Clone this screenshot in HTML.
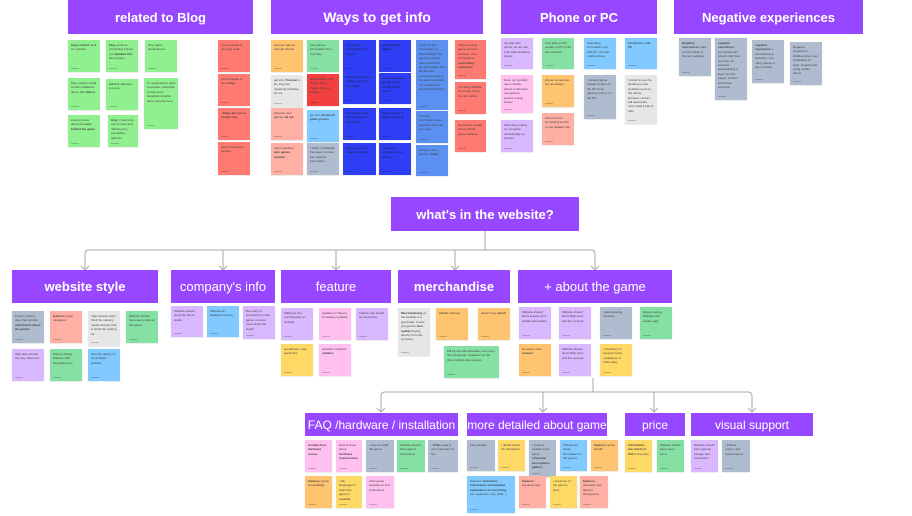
<!DOCTYPE html>
<html><head><meta charset="utf-8"><style>
*{margin:0;padding:0;box-sizing:border-box}
body{width:912px;height:516px;background:#fff;position:relative;overflow:hidden;font-family:"Liberation Sans",sans-serif}
.h{position:absolute;background:#9747ff;color:#fff;display:flex;align-items:center;justify-content:center;font-weight:bold;font-size:13px;white-space:nowrap}
.h.r{font-weight:normal}
.s{position:absolute;font-size:3px;line-height:4.4px;padding:3px;color:#444;overflow:hidden;box-shadow:0 0.5px 1px rgba(0,0,0,.15)}
.s::after{content:"";position:absolute;left:3px;bottom:3px;width:8px;height:1px;background:rgba(0,0,0,.2)}
.g{background:#90f090}.gr{background:#85e0a3}.l{background:#d9b8ff}.p{background:#ffc0ef}.sa{background:#ffafa3}.r1{background:#ff7a70}
.o{background:#ffc470}.y{background:#ffd966}.lb{background:#80caff}.gb{background:#afbccf}.lg{background:#e6e6e6}
.b{background:#2e3ef5;color:#223}.mb{background:#5b8ff0}.rr{background:#f24040}
</style></head><body>
<svg width="912" height="516" style="position:absolute;left:0;top:0" fill="none" stroke="#aaa" stroke-width="1">
<path d="M485 231V250M85 270V254Q85 250 89 250H591Q595 250 595 254V270M223 250V270M336 250V270M455 250V270"/>
<path d="M81 266l4 4 4-4M219 266l4 4 4-4M332 266l4 4 4-4M451 266l4 4 4-4M591 266l4 4 4-4"/>
<path d="M593 378V392M381 412V396Q381 392 385 392H748Q752 392 752 396V412M543 392V412M654 392V412"/>
<path d="M377 408l4 4 4-4M539 408l4 4 4-4M650 408l4 4 4-4M748 408l4 4 4-4"/>
</svg>

<div class="h" style="left:68px;top:0;width:185px;height:34px">related to Blog</div>
<div class="h" style="left:271px;top:0;width:212px;height:34px;font-size:14px">Ways to get info</div>
<div class="h" style="left:501px;top:0;width:156px;height:34px">Phone or PC</div>
<div class="h" style="left:674px;top:0;width:189px;height:34px">Negative experiences</div>

<div class="s g" style="left:68px;top:40px;width:32px;height:32px"><b>blog content:</b> look for updates</div>
<div class="s g" style="left:68px;top:78px;width:32px;height:32px">blog: prefers visual content related to game, like <b>Videos</b></div>
<div class="s g" style="left:68px;top:115px;width:32px;height:32px">Likes to know about the <b>team behind the game</b></div>
<div class="s g" style="left:106px;top:40px;width:32px;height:32px"><b>blog</b> could be interesting if gives you <b>detailed info</b> about game</div>
<div class="s g" style="left:106px;top:79px;width:32px;height:31px"><b>want to see</b> devs process</div>
<div class="s g" style="left:108px;top:115px;width:30px;height:32px"><b>blog</b>: it has to be very human and offering very interesting features</div>
<div class="s g" style="left:145px;top:40px;width:32px;height:32px">blog: game development</div>
<div class="s g" style="left:144px;top:78px;width:34px;height:51px">I'm expecting to read a episode, would like to find some blog/diary/insights about development</div>
<div class="s r1" style="left:218px;top:40px;width:32px;height:32px">not interested in dev logs at all</div>
<div class="s r1" style="left:218px;top:74px;width:32px;height:32px">not interested in devs <b>blog</b></div>
<div class="s r1" style="left:218px;top:108px;width:32px;height:32px">• <b>blogs are not so trendy now</b></div>
<div class="s r1" style="left:218px;top:142px;width:32px;height:33px">doesn't visit devs website</div>

<div class="s o" style="left:271px;top:40px;width:32px;height:32px">discover games through friends</div>
<div class="s lg" style="left:271px;top:75px;width:32px;height:32px">get info: <b>Podcast</b> a lot, they are replacing websites for me</div>
<div class="s sa" style="left:271px;top:108px;width:32px;height:32px">discover new games: <b>tik tok</b></div>
<div class="s sa" style="left:271px;top:143px;width:32px;height:32px">other websites: <b>epic games website</b></div>
<div class="s gr" style="left:307px;top:40px;width:32px;height:32px">new games information from YouTube</div>
<div class="s rr" style="left:307px;top:74px;width:32px;height:32px">dev Website: Will Snaps, Rock Paper, Polygon, Kotaku</div>
<div class="s lb" style="left:307px;top:110px;width:32px;height:32px">get info: <b>facebook game groups</b></div>
<div class="s gb" style="left:307px;top:143px;width:32px;height:32px">• clicks on <b>forums</b> that seem to have the required information</div>
<div class="s b" style="left:343px;top:40px;width:33px;height:32px">new games information from Steam</div>
<div class="s b" style="left:343px;top:72px;width:33px;height:32px">Believe Steam is a reliable source of information</div>
<div class="s b" style="left:343px;top:108px;width:33px;height:32px">Uses Steam and Epic to discover new games</div>
<div class="s b" style="left:343px;top:143px;width:33px;height:32px">Main sources: 1. Steam 2. Reddit</div>
<div class="s b" style="left:379px;top:40px;width:32px;height:32px"><b>get new info: steam</b></div>
<div class="s b" style="left:379px;top:73px;width:32px;height:31px">devs research on google, which usually lead to Steam</div>
<div class="s b" style="left:379px;top:108px;width:32px;height:32px">Main sources: 1. Steam 2. Reddit</div>
<div class="s b" style="left:379px;top:143px;width:32px;height:32px">new games information from Steam</div>
<div class="s mb" style="left:416px;top:40px;width:32px;height:70px">Looks for the information on Steam/Steam the game's website. Uses Discord to get information and Reddit that sometimes lead to the game's website if it contains the desired information</div>
<div class="s mb" style="left:416px;top:111px;width:32px;height:32px">For blog information, uses Discord, where he can read</div>
<div class="s mb" style="left:416px;top:145px;width:32px;height:31px">discover new games: <b>steam</b></div>
<div class="s r1" style="left:455px;top:40px;width:31px;height:39px">Stopped using game websites because more interested in <b>community, comments</b></div>
<div class="s r1" style="left:455px;top:82px;width:31px;height:32px">not using Website as a main source for information</div>
<div class="s r1" style="left:455px;top:120px;width:31px;height:32px">He doesn't usually check official game websites</div>

<div class="s l" style="left:501px;top:38px;width:32px;height:31px">not play with phone, as not use it as main browsing device</div>
<div class="s p" style="left:501px;top:75px;width:32px;height:38px">Does not typically use a mobile phone to discover new games, prefers a large screen</div>
<div class="s l" style="left:501px;top:120px;width:32px;height:32px">Searching mainly on computer, occasionally on phones</div>
<div class="s gr" style="left:542px;top:38px;width:32px;height:31px">Only play on PC, usually on PC to do the research</div>
<div class="s o" style="left:542px;top:75px;width:32px;height:32px">phone: sometimes but not always</div>
<div class="s sa" style="left:542px;top:113px;width:32px;height:32px">Phone if find something but PC to say detailed info</div>
<div class="s lb" style="left:584px;top:38px;width:32px;height:31px">Searching information only with PC, not with mobile phone</div>
<div class="s gb" style="left:584px;top:75px;width:32px;height:44px">• viewing game related content on the PC since gaming is done on the PC</div>
<div class="s lb" style="left:625px;top:38px;width:32px;height:31px"><b>not phone, only PC</b></div>
<div class="s lg" style="left:625px;top:75px;width:32px;height:49px">I prefer to use the desktop to visit websites and not the phone, because I know I will appreciate more what it has to offer</div>

<div class="s gb" style="left:679px;top:38px;width:32px;height:38px"><b>Negative experiences:</b> lack of information in the dev websites</div>
<div class="s gb" style="left:715px;top:38px;width:32px;height:62px"><b>negative experience:</b> connected with ubisoft, with their services, for example downloading or login into the pages, content which was removed</div>
<div class="s gb" style="left:752px;top:40px;width:32px;height:43px"><b>negative experience:</b> • overwhelming websites • too many games in devs website</div>
<div class="s gb" style="left:790px;top:42px;width:32px;height:43px">Negative experience: Dislikes when user notification for login, would prefer using mobile phone</div>

<div class="h" style="left:391px;top:197px;width:188px;height:34px">what's in the website?</div>

<div class="h" style="left:12px;top:270px;width:146px;height:33px">website style</div>
<div class="h r" style="left:171px;top:270px;width:104px;height:33px">company's info</div>
<div class="h r" style="left:281px;top:270px;width:110px;height:33px">feature</div>
<div class="h" style="left:398px;top:270px;width:112px;height:33px">merchandise</div>
<div class="h r" style="left:518px;top:270px;width:154px;height:33px">+ about the game</div>

<div class="s gb" style="left:12px;top:311px;width:32px;height:32px">Prefers visiting sites that provide <b>information about the games</b></div>
<div class="s l" style="left:12px;top:349px;width:32px;height:32px">Web sites should not only show text</div>
<div class="s sa" style="left:50px;top:311px;width:32px;height:32px"><b>features:</b> easy navigation</div>
<div class="s gr" style="left:50px;top:349px;width:32px;height:32px">Enjoys visiting Website with interesting text</div>
<div class="s lg" style="left:88px;top:311px;width:32px;height:35px">I like honesty and I think the industry needs honesty that is worth fan looking for</div>
<div class="s lb" style="left:88px;top:349px;width:32px;height:32px">likes the design of minimalistic website</div>
<div class="s gr" style="left:126px;top:311px;width:32px;height:32px">Website should have same style as the game</div>
<div class="s l" style="left:171px;top:306px;width:32px;height:31px">Website should show the about studio</div>
<div class="s lb" style="left:207px;top:306px;width:32px;height:31px">Website for background story</div>
<div class="s l" style="left:243px;top:306px;width:32px;height:33px">Dev story is important for indie game, to know more about the studio</div>
<div class="s l" style="left:281px;top:308px;width:32px;height:32px">Willing to buy merchandise on website</div>
<div class="s p" style="left:319px;top:308px;width:32px;height:32px">updates on Steam, it's always updated</div>
<div class="s l" style="left:356px;top:308px;width:32px;height:32px">Trial for free would be interesting</div>
<div class="s y" style="left:281px;top:344px;width:32px;height:32px">soundtrack • also wants this</div>
<div class="s p" style="left:319px;top:344px;width:32px;height:32px">websites: features: <b>updates</b></div>
<div class="s lg" style="left:398px;top:308px;width:32px;height:48px"><b>Merchandising</b> on the website is a good idea, I know you get the <b>best quality</b> buying directly from the company</div>
<div class="s o" style="left:436px;top:308px;width:32px;height:32px"><b>merch:</b> artbook</div>
<div class="s o" style="left:478px;top:308px;width:32px;height:32px">doesn't buy <b>merch</b></div>
<div class="s gr" style="left:444px;top:346px;width:55px;height:32px">will buy the Merchandise, but not on the homepage. Instead of on the other website like amazon</div>
<div class="s l" style="left:519px;top:307px;width:32px;height:32px">Website should show teasers and update information</div>
<div class="s l" style="left:559px;top:307px;width:32px;height:32px">Website should show Main story and the concept</div>
<div class="s gb" style="left:600px;top:307px;width:32px;height:32px">maps showing missions</div>
<div class="s gr" style="left:640px;top:307px;width:32px;height:32px">Enjoys seeing Website with easter eggs</div>
<div class="s o" style="left:519px;top:344px;width:32px;height:32px">he wants more <b>reviews</b></div>
<div class="s l" style="left:559px;top:344px;width:32px;height:32px">Website should show Main story and the concept</div>
<div class="s y" style="left:600px;top:344px;width:32px;height:32px">• checking if it supports local multiplayer or online play</div>

<div class="h r" style="left:305px;top:413px;width:153px;height:23px;font-size:12px">FAQ /hardware / installation</div>
<div class="h r" style="left:467px;top:413px;width:140px;height:23px;font-size:12px">more detailed about game</div>
<div class="h r" style="left:625px;top:413px;width:60px;height:23px;font-size:12px">price</div>
<div class="h r" style="left:691px;top:413px;width:122px;height:23px;font-size:12px">visual support</div>

<div class="s p" style="left:305px;top:440px;width:27px;height:32px"><b>troubleshoot hardware issues</b></div>
<div class="s p" style="left:336px;top:440px;width:26px;height:32px">How to know about <b>hardware requirements</b></div>
<div class="s gb" style="left:366px;top:440px;width:28px;height:32px">• how to install the game</div>
<div class="s gr" style="left:397px;top:440px;width:28px;height:32px">Website should have games instructions</div>
<div class="s gb" style="left:428px;top:440px;width:30px;height:32px">• <b>FAQs</b> page is very important for him</div>
<div class="s o" style="left:305px;top:476px;width:27px;height:32px"><b>features:</b> game compatibility</div>
<div class="s y" style="left:336px;top:476px;width:26px;height:32px">• the languages in which the game is available</div>
<div class="s p" style="left:366px;top:476px;width:28px;height:32px">visits game websites to find instructions</div>
<div class="s gb" style="left:467px;top:440px;width:28px;height:31px">more details</div>
<div class="s y" style="left:498px;top:440px;width:27px;height:31px">• details about the characters</div>
<div class="s gb" style="left:529px;top:440px;width:27px;height:37px">• Content related to the game (<b>character descriptions, gallery</b>)</div>
<div class="s lb" style="left:560px;top:440px;width:27px;height:31px">Website for detail information of the games</div>
<div class="s o" style="left:591px;top:440px;width:27px;height:31px"><b>features:</b> game details</div>
<div class="s lb" style="left:467px;top:476px;width:48px;height:37px">features: <b>characters information and detailed explanation of everything</b> (ex: weapons, map, skills...)</div>
<div class="s sa" style="left:519px;top:476px;width:27px;height:32px"><b>features:</b> interimal map</div>
<div class="s y" style="left:550px;top:476px;width:27px;height:32px">• summary of the game's story</div>
<div class="s sa" style="left:580px;top:476px;width:28px;height:32px"><b>features:</b> character and game's background</div>
<div class="s y" style="left:625px;top:440px;width:27px;height:32px"><b>information she wants to find</b> is the price</div>
<div class="s gr" style="left:657px;top:440px;width:27px;height:32px">Website should have some price</div>
<div class="s l" style="left:691px;top:440px;width:27px;height:32px">Website should have gaming footage and screenshot</div>
<div class="s gb" style="left:722px;top:440px;width:28px;height:32px">• Photos, videos, and visual support</div>
</body></html>
